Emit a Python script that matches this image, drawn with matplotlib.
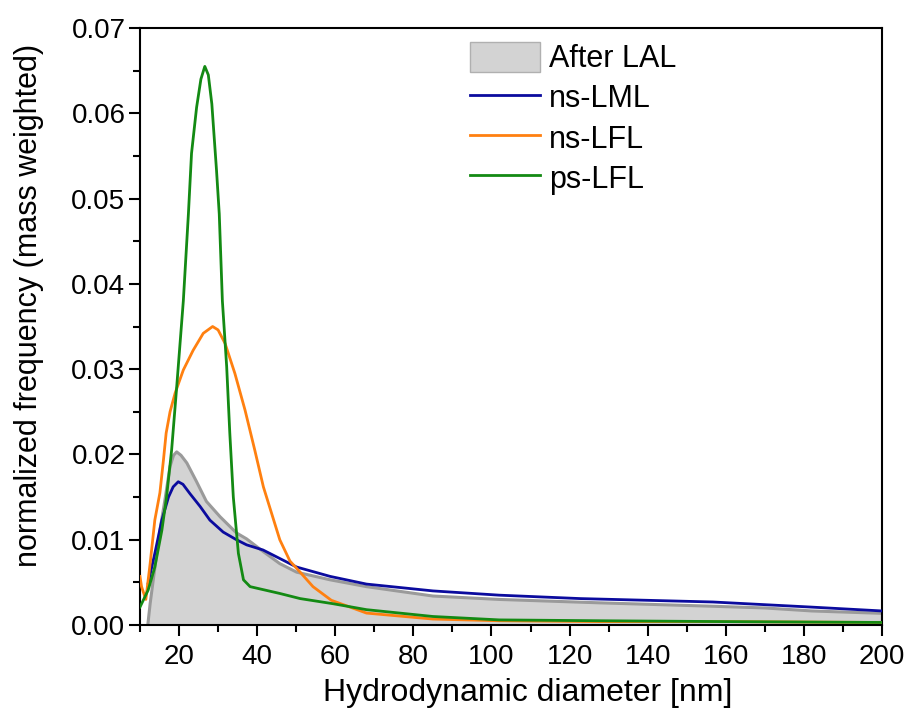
import matplotlib
matplotlib.use("Agg")
import matplotlib.pyplot as plt
from matplotlib.ticker import MultipleLocator, FormatStrFormatter
from matplotlib.patches import Patch
from matplotlib.lines import Line2D

plt.rcParams['font.family'] = ['Liberation Sans', 'DejaVu Sans']

# After LAL (filled area)
lal_x = [12.0, 12.6, 13.4, 15.1, 16.4, 17.7, 18.6, 19.4, 20.5, 22.0, 24.5, 27.0, 30.5, 34.7,
         37.3, 41.6, 45.8, 50.1, 58.7, 68.0, 85.0, 102.0, 127.8, 156.7, 170.0, 182.0, 200.0]
lal_y = [0.0, 0.0025, 0.0053, 0.0111, 0.0147, 0.0186, 0.0199, 0.0203, 0.0199, 0.0190, 0.0168,
         0.0145, 0.0127, 0.0108, 0.0101, 0.0086, 0.0072, 0.0062, 0.0053, 0.0045, 0.0034,
         0.0030, 0.0026, 0.0022, 0.0020, 0.00165, 0.00137]

# ns-LML
lml_x = [12.1, 13.8, 15.6, 17.3, 18.5, 19.8, 21.0, 22.8, 25.4, 27.9, 31.3, 34.7, 37.3, 41.5,
         45.8, 50.1, 58.7, 68.0, 85.0, 102.0, 122.7, 156.7, 182.0, 200.0]
lml_y = [0.0049, 0.0084, 0.0123, 0.0150, 0.0162, 0.0168, 0.0165, 0.0154, 0.0139, 0.0123,
         0.0109, 0.0100, 0.0094, 0.0088, 0.0078, 0.0068, 0.0057, 0.0048, 0.0040, 0.0035,
         0.0031, 0.0027, 0.0021, 0.00165]

# ns-LFL
lfl_x = [10.0, 10.4, 11.5, 12.6, 13.8, 15.1, 16.0, 16.7, 17.7, 19.0, 21.1, 23.6, 26.2, 28.6,
         30.0, 31.8, 34.3, 36.9, 39.4, 41.6, 45.8, 48.4, 51.0, 54.3, 59.0, 68.0, 85.0, 102.0,
         128.0, 160.0, 200.0]
lfl_y = [0.0057, 0.0045, 0.0030, 0.0072, 0.0123, 0.0155, 0.0193, 0.0225, 0.0250, 0.0272,
         0.0299, 0.0322, 0.0342, 0.0350, 0.0346, 0.0330, 0.0295, 0.0252, 0.0205, 0.0162,
         0.0100, 0.0075, 0.0062, 0.0045, 0.0029, 0.0014, 0.0007, 0.0005, 0.0004, 0.0004,
         0.0003]

# ps-LFL
pfl_x = [10.0, 12.1, 13.8, 15.6, 16.8, 18.1, 19.4, 21.1, 22.4, 23.2, 24.5, 25.6, 26.6, 27.5,
         28.4, 29.6, 30.3, 31.1, 32.2, 33.0, 33.9, 35.2, 36.5, 38.2, 45.8, 51.0, 59.4, 68.0,
         85.0, 102.0, 128.0, 160.0, 200.0]
pfl_y = [0.0021, 0.0041, 0.0068, 0.0111, 0.0150, 0.0205, 0.0279, 0.0380, 0.0482, 0.0553,
         0.0607, 0.0640, 0.0655, 0.0645, 0.0611, 0.0533, 0.0482, 0.0380, 0.0303, 0.0225,
         0.0150, 0.0084, 0.0053, 0.0045, 0.0037, 0.0031, 0.0025, 0.0018, 0.0010, 0.0006,
         0.0005, 0.0004, 0.0003]

fig = plt.figure(figsize=(9.06, 7.18), dpi=100)
ax = fig.add_axes([0.1545, 0.1295, 0.819, 0.8315])

ax.fill_between(lal_x, lal_y, 0, color='#d3d3d3', linewidth=0, zorder=1)
ax.plot(lal_x, lal_y, color='#9a9a9a', lw=2.2, zorder=2)
ax.plot(lml_x, lml_y, color='#0b0b9e', lw=2.0, zorder=3)
ax.plot(lfl_x, lfl_y, color='#ff8010', lw=2.0, zorder=3)
ax.plot(pfl_x, pfl_y, color='#138a13', lw=2.0, zorder=4)

ax.set_xlim(10, 200)
ax.set_ylim(0, 0.07)
ax.set_xticks(range(20, 201, 20))
ax.xaxis.set_minor_locator(MultipleLocator(10))
ax.yaxis.set_major_locator(MultipleLocator(0.01))
ax.yaxis.set_minor_locator(MultipleLocator(0.005))
ax.yaxis.set_major_formatter(FormatStrFormatter('%.2f'))
ax.tick_params(which='major', direction='out', length=8, width=1.5, labelsize=20)
ax.tick_params(which='minor', direction='out', length=5, width=1.5)
ax.tick_params(axis='x', which='major', pad=6)
ax.tick_params(axis='y', which='major', pad=2.5)
for s in ax.spines.values():
    s.set_linewidth(1.5)

ax.set_xlabel('Hydrodynamic diameter [nm]', fontsize=23)
ax.xaxis.set_label_coords(0.523, -0.088)
ax.set_ylabel('normalized frequency (mass weighted)', fontsize=22)
ax.yaxis.set_label_coords(-0.13, 0.536)

handles = [Patch(facecolor='#d3d3d3', edgecolor='#b0b0b0', label='After LAL'),
           Line2D([0], [0], color='#0b0b9e', lw=2, label='ns-LML'),
           Line2D([0], [0], color='#ff8010', lw=2, label='ns-LFL'),
           Line2D([0], [0], color='#138a13', lw=2, label='ps-LFL')]
ax.legend(handles=handles, loc='upper left', bbox_to_anchor=(0.445, 0.977), frameon=False,
          fontsize=22, handlelength=2.3, handleheight=1.15, handletextpad=0.28,
          labelspacing=0.25, borderpad=0, borderaxespad=0)

fig.savefig('out.png', dpi=100)
